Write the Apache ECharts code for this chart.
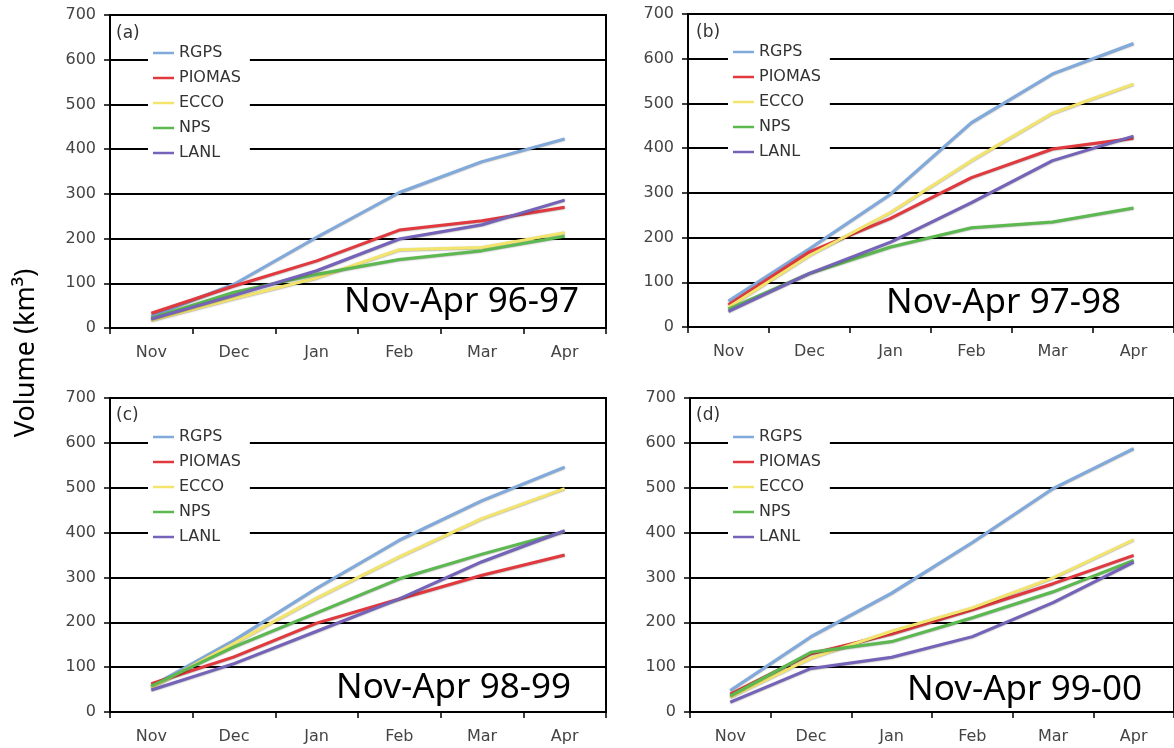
<!DOCTYPE html>
<html>
<head>
<meta charset="utf-8">
<script src="https://cdn.jsdelivr.net/npm/echarts@6/dist/echarts.min.js"></script>
<style>
html,body{margin:0;padding:0;background:#fff;}
#chart{width:1174px;height:748px;}
</style>
</head>
<body>
<div id="chart"></div>
<script>
// ---- data ----
const months = ['Nov', 'Dec', 'Jan', 'Feb', 'Mar', 'Apr'];
const seriesNames = ['RGPS', 'PIOMAS', 'ECCO', 'NPS', 'LANL'];
const yTicks = [0, 100, 200, 300, 400, 500, 600, 700];

// (a) Nov-Apr 96-97
const a_RGPS   = [26, 98, 203, 303, 372, 423];
const a_PIOMAS = [33, 94, 150, 219, 240, 270];
const a_ECCO   = [17, 66, 112, 175, 180, 213];
const a_NPS    = [22, 80, 120, 153, 173, 205];
const a_LANL   = [20, 73, 128, 199, 231, 286];

// (b) Nov-Apr 97-98
const b_RGPS   = [58, 175, 297, 457, 566, 634];
const b_PIOMAS = [50, 168, 243, 334, 398, 422];
const b_ECCO   = [44, 160, 256, 372, 478, 543];
const b_NPS    = [40, 120, 179, 222, 235, 266];
const b_LANL   = [35, 120, 190, 278, 372, 427];

// (c) Nov-Apr 98-99
const c_RGPS   = [57, 160, 276, 383, 471, 546];
const c_PIOMAS = [63, 123, 198, 252, 305, 350];
const c_ECCO   = [54, 153, 254, 346, 431, 498];
const c_NPS    = [58, 145, 221, 297, 352, 402];
const c_LANL   = [49, 108, 180, 252, 335, 404];

// (d) Nov-Apr 99-00
const d_RGPS   = [48, 168, 265, 378, 498, 587];
const d_PIOMAS = [40, 130, 174, 228, 286, 349];
const d_ECCO   = [33, 120, 180, 232, 299, 384];
const d_NPS    = [36, 133, 157, 210, 268, 338];
const d_LANL   = [22, 97, 122, 168, 244, 334];

const panelLetters = ['(a)', '(b)', '(c)', '(d)'];
const panelPeriods = ['Nov-Apr 96-97', 'Nov-Apr 97-98', 'Nov-Apr 98-99', 'Nov-Apr 99-00'];
const yAxisTitle = 'Volume (km³)';

const panelData = [
  [a_RGPS, a_PIOMAS, a_ECCO, a_NPS, a_LANL],
  [b_RGPS, b_PIOMAS, b_ECCO, b_NPS, b_LANL],
  [c_RGPS, c_PIOMAS, c_ECCO, c_NPS, c_LANL],
  [d_RGPS, d_PIOMAS, d_ECCO, d_NPS, d_LANL]
];

// ---- styles / layout ----
const colors = ['#80A9DC', '#E2393F', '#F3E56C', '#5BB94F', '#7463B8'];
const layout = [
  {left: 110, top: 15,  w: 496, h: 313, legL: 148, legT: 39,  letX: 116, letY: 36,  perX: 579,  perY: 302},
  {left: 688, top: 14,  w: 496, h: 313, legL: 728, legT: 38,  letX: 696, letY: 35,  perX: 1121, perY: 303},
  {left: 110, top: 398, w: 496, h: 314, legL: 148, legT: 423, letX: 116, letY: 418, perX: 571,  perY: 688},
  {left: 690, top: 398, w: 496, h: 314, legL: 728, legT: 423, letX: 696, letY: 418, perX: 1142, perY: 690}
];
const axisFont = 'DejaVu Sans, Verdana, sans-serif';

const grids = [], xAxes = [], yAxes = [], series = [], legends = [], graphics = [];
layout.forEach((p, i) => {
  grids.push({left: p.left, top: p.top, width: p.w, height: p.h,
    show: true, borderColor: '#000', borderWidth: 2, backgroundColor: 'transparent'});
  xAxes.push({
    type: 'category', gridIndex: i, data: months, boundaryGap: true,
    axisLine: {show: true, lineStyle: {color: '#000', width: 2}},
    axisTick: {show: true, length: 6, lineStyle: {color: '#000', width: 1.5}},
    axisLabel: {color: '#444', fontSize: 16, fontFamily: axisFont, margin: 17},
    splitLine: {show: false}
  });
  yAxes.push({
    type: 'value', gridIndex: i, min: yTicks[0], max: yTicks[yTicks.length - 1], interval: 100,
    axisLine: {show: true, lineStyle: {color: '#000', width: 2}},
    axisTick: {show: true, length: 6, lineStyle: {color: '#000', width: 1.5}},
    axisLabel: {color: '#444', fontSize: 16, fontFamily: axisFont, margin: 14},
    splitLine: {show: true, lineStyle: {color: '#000', width: 2}}
  });
  seriesNames.forEach((name, k) => {
    series.push({
      name: name, type: 'line', xAxisIndex: i, yAxisIndex: i,
      data: panelData[i][k], symbol: 'none', smooth: false,
      color: colors[k],
      lineStyle: {width: 3, color: colors[k], shadowColor: 'rgba(0,0,0,0.35)', shadowBlur: 1.5, shadowOffsetY: 0.5},
      emphasis: {disabled: true}, z: 3
    });
  });
  legends.push({
    data: seriesNames, orient: 'vertical', left: p.legL, top: p.legT,
    backgroundColor: '#fff', padding: [5, 9, 5, 5],
    icon: 'rect', itemWidth: 21, itemHeight: 2.5, itemGap: 7,
    textStyle: {fontSize: 16, fontFamily: axisFont, color: '#333', lineHeight: 18},
    selectedMode: false
  });
  graphics.push({
    type: 'text', left: p.letX, top: p.letY - 11,
    style: {text: panelLetters[i], font: '17px "DejaVu Sans", Verdana, sans-serif', fill: '#333'}
  });
  graphics.push({
    type: 'text', x: p.perX, y: p.perY,
    style: {text: panelPeriods[i], font: '35px "Noto Sans", sans-serif', fill: '#000',
      textAlign: 'right', textVerticalAlign: 'middle'}
  });
});
graphics.push({
  type: 'text', x: 26, y: 353, rotation: Math.PI / 2,
  style: {text: yAxisTitle, font: '27px "Noto Sans", sans-serif', fill: '#000',
    textAlign: 'center', textVerticalAlign: 'middle'}
});

const chart = echarts.init(document.getElementById('chart'), null, {renderer: 'canvas'});
chart.setOption({
  animation: false,
  backgroundColor: '#fff',
  grid: grids, xAxis: xAxes, yAxis: yAxes, series: series,
  legend: legends, graphic: graphics
});
</script>
</body>
</html>
